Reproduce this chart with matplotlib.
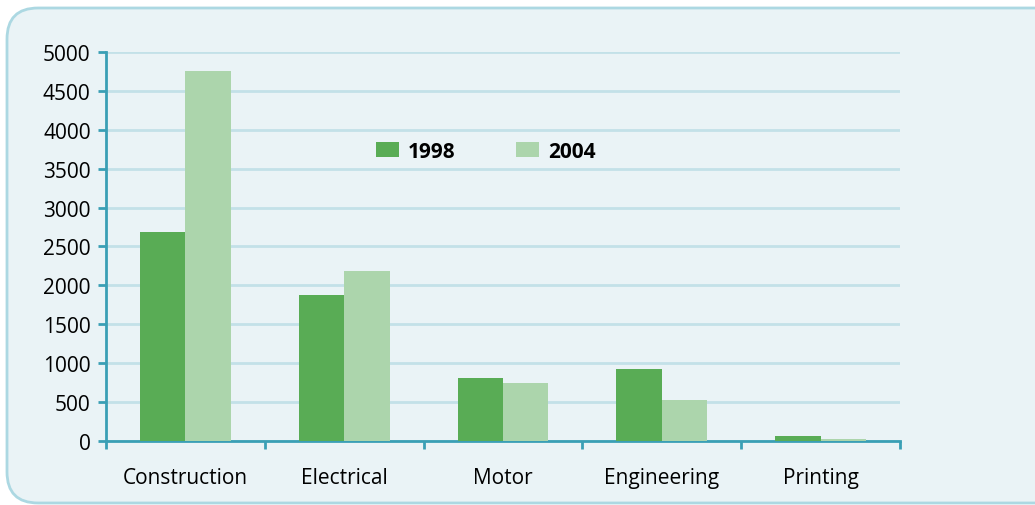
import numpy as np
import matplotlib.pyplot as plt
from matplotlib.patches import FancyBboxPatch

plt.rcParams['font.family'] = ['Open Sans', 'DejaVu Sans']

# data
categories = ['Construction', 'Electrical', 'Motor', 'Engineering', 'Printing']
values_1998 = [2690, 1880, 810, 925, 65]
values_2004 = [4750, 2190, 750, 530, 25]
series_labels = ['1998', '2004']
y_ticks = [0, 500, 1000, 1500, 2000, 2500, 3000, 3500, 4000, 4500, 5000]

col_1998 = '#59ac55'
col_2004 = '#acd5ac'
teal = '#3a9fb5'
grid_col = '#c3e1e8'

fig = plt.figure(figsize=(10.35, 5.06), dpi=100)
fig.patch.set_facecolor('white')

# rounded background box, drawn behind the axes
box = FancyBboxPatch((7 / 1035, 2 / 506), 1.1, 495 / 506,
                     boxstyle='round,pad=0,rounding_size=0.03',
                     transform=fig.transFigure, facecolor='#eaf3f6',
                     edgecolor='#acd8e2', linewidth=2, zorder=-10,
                     mutation_aspect=1035 / 506)
fig.patches.append(box)

ax = fig.add_axes([106 / 1035, 1 - 442 / 506, 794 / 1035, 389 / 506])
ax.set_facecolor('none')
ax.set_zorder(1)

x = np.arange(len(categories))
w = 0.286
ax.bar(x - w / 2, values_1998, w, color=col_1998, label=series_labels[0], zorder=3)
ax.bar(x + w / 2, values_2004, w, color=col_2004, label=series_labels[1], zorder=3)

ax.set_xlim(-0.5, len(categories) - 0.5)
ax.set_ylim(0, 5000)
ax.set_yticks(y_ticks)
ax.yaxis.grid(True, color=grid_col, linewidth=2, zorder=0)
ax.set_axisbelow(True)

for s in ['top', 'right']:
    ax.spines[s].set_visible(False)
for s in ['left', 'bottom']:
    ax.spines[s].set_color(teal)
    ax.spines[s].set_linewidth(2)

ax.tick_params(axis='y', colors=teal, length=6, width=2, labelcolor='black',
               labelsize=15, pad=5)
# x ticks at category boundaries, labels centred
ax.set_xticks(np.arange(len(categories) + 1) - 0.5)
ax.set_xticklabels([])
ax.set_xticks(x, minor=True)
ax.set_xticklabels(categories, minor=True)
ax.tick_params(axis='x', which='major', colors=teal, length=6, width=2)
ax.tick_params(axis='x', which='minor', length=0, labelsize=15, pad=19,
               labelcolor='black')

leg = ax.legend(loc='center left', bbox_to_anchor=(0.327, 0.745), ncol=2,
                frameon=False, borderpad=0, handlelength=1.1, handleheight=0.77,
                handletextpad=0.43, columnspacing=2.9,
                prop={'weight': 'bold', 'size': 15})

fig.savefig('out.png', dpi=100)
